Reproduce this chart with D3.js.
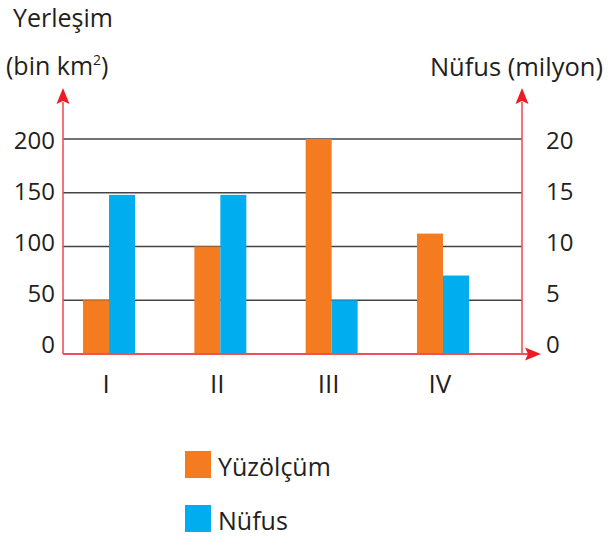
<!DOCTYPE html>
<html><head><meta charset="utf-8">
<script src="https://cdn.jsdelivr.net/npm/d3@7"></script>
<style>body{margin:0;background:#fff}svg{display:block}text{font-family:"Open Sans",sans-serif;fill:#231f20}</style>
</head><body>
<script>
const categories = ["I","II","III","IV"];
const areaValues = [50, 100, 200, 112];        // Yüzölçüm (bin km²)
const popValues = [14.8, 14.8, 5, 7.3];        // Nüfus (milyon)
const leftTicks = [0, 50, 100, 150, 200];
const rightTicks = [0, 5, 10, 15, 20];
const seriesNames = ["Yüzölçüm", "Nüfus"];
const colors = ["#f47b20", "#00aeef"];

const W = 608, H = 536;
const svg = d3.select("body").append("svg").attr("width", W).attr("height", H);

const xL = 63, xR = 522, y0 = 354;
const yLeft = d3.scaleLinear().domain([0, 200]).range([y0, 139]);
const yRight = d3.scaleLinear().domain([0, 20]).range([y0, 139]);
const labelY = d3.scaleLinear().domain([0, 200]).range([353, 149]);
const labelYR = d3.scaleLinear().domain([0, 20]).range([353, 149]);
const x = d3.scaleBand().domain(categories).range([63, 489]).paddingInner(0.533).paddingOuter(0.18);
const xs = d3.scaleBand().domain([0, 1]).range([0, x.bandwidth()]);

// gridlines
svg.append("g").selectAll("line").data(leftTicks.filter(d => d > 0)).join("line")
  .attr("x1", xL).attr("x2", xR)
  .attr("y1", d => yLeft(d)).attr("y2", d => yLeft(d))
  .attr("stroke", "#444").attr("stroke-width", 1.3);

// bars
const g = svg.append("g");
g.selectAll("rect.a").data(categories).join("rect").attr("class", "a")
  .attr("x", d => x(d) + xs(0)).attr("width", xs.bandwidth())
  .attr("y", (d, i) => yLeft(areaValues[i])).attr("height", (d, i) => y0 - yLeft(areaValues[i]))
  .attr("fill", colors[0]);
g.selectAll("rect.p").data(categories).join("rect").attr("class", "p")
  .attr("x", d => x(d) + xs(1)).attr("width", xs.bandwidth())
  .attr("y", (d, i) => yRight(popValues[i])).attr("height", (d, i) => y0 - yRight(popValues[i]))
  .attr("fill", colors[1]);

// axes lines
const red = "#f0505a", redHead = "#ed1c24";
svg.append("line").attr("x1", xL).attr("x2", xL).attr("y1", y0).attr("y2", 102).attr("stroke", red).attr("stroke-width", 1.6);
svg.append("line").attr("x1", xR).attr("x2", xR).attr("y1", y0).attr("y2", 102).attr("stroke", red).attr("stroke-width", 1.6);
svg.append("line").attr("x1", xL).attr("x2", 528).attr("y1", y0).attr("y2", y0).attr("stroke", red).attr("stroke-width", 1.8);
// arrowheads
const up = (cx) => `M${cx},88 L${cx + 6.5},104 L${cx},101 L${cx - 6.5},104 Z`;
svg.append("path").attr("d", up(xL)).attr("fill", redHead);
svg.append("path").attr("d", up(xR)).attr("fill", redHead);
svg.append("path").attr("d", `M541,${y0} L525,${y0 - 6.5} L528,${y0} L525,${y0 + 6.5} Z`).attr("fill", redHead);

// tick labels
svg.append("g").selectAll("text").data(leftTicks).join("text")
  .attr("x", 55).attr("y", d => labelY(d)).attr("text-anchor", "end")
  .attr("font-size", 24).text(d => d);
svg.append("g").selectAll("text").data(rightTicks).join("text")
  .attr("x", 546).attr("y", d => labelYR(d)).attr("text-anchor", "start")
  .attr("font-size", 24).text(d => d);
svg.append("g").selectAll("text").data(categories).join("text")
  .attr("x", d => x(d) + x.bandwidth() / 2 - 3).attr("y", 393).attr("text-anchor", "middle")
  .attr("font-size", 26).text(d => d);

// axis titles
svg.append("text").attr("x", 13).attr("y", 27).attr("font-size", 25).text("Yerleşim");
const t2 = svg.append("text").attr("x", 6).attr("y", 75).attr("font-size", 25);
t2.append("tspan").text("(bin km");
t2.append("tspan").attr("font-size", 14).attr("dy", -10).text("2");
t2.append("tspan").attr("dy", 10).text(")");
svg.append("text").attr("x", 603).attr("y", 76).attr("text-anchor", "end").attr("font-size", 25.5).text("Nüfus (milyon)");

// legend
const lg = svg.append("g").selectAll("g").data(seriesNames).join("g")
  .attr("transform", (d, i) => `translate(185,${451 + i * 54})`);
lg.append("rect").attr("width", 26).attr("height", 27).attr("fill", (d, i) => colors[i]);
lg.append("text").attr("x", 33).attr("y", 25).attr("font-size", 25).text(d => d);
</script>
</body></html>
